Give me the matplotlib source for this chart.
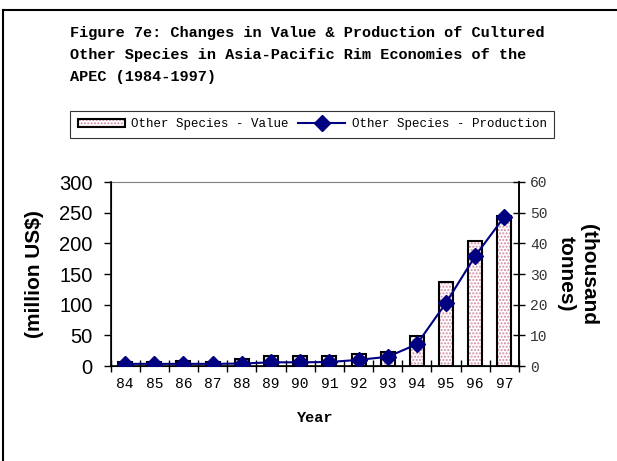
import matplotlib
matplotlib.use('Agg')
import matplotlib.pyplot as plt
from matplotlib.lines import Line2D
from matplotlib.legend_handler import HandlerTuple
import numpy as np

years = ['84', '85', '86', '87', '88', '89', '90', '91', '92', '93', '94', '95', '96', '97']
value_musd = [7, 7, 8, 7, 12, 16, 16, 16, 19, 23, 49, 137, 203, 245]
production_kt = [0.7, 0.7, 0.7, 0.7, 0.8, 1.2, 1.2, 1.3, 2.0, 3.0, 7.1, 20.6, 35.9, 48.7]

title_lines = [
    'Figure 7e: Changes in Value & Production of Cultured',
    'Other Species in Asia-Pacific Rim Economies of the',
    'APEC (1984-1997)',
]

mono = 'Liberation Mono'
sans = 'Liberation Sans'

fig = plt.figure(figsize=(6.17, 4.61), dpi=100)
W, H = 617, 461

# рамка вокруг рисунка (обрезана справа и снизу)
fig.add_artist(Line2D([3 / W, 3 / W], [0, 1 - 10 / H], color='black', lw=1.5))
fig.add_artist(Line2D([3 / W, 1], [1 - 10 / H, 1 - 10 / H], color='black', lw=1.5))

# заголовок
for i, line in enumerate(title_lines):
    fig.text(70 / W, 1 - (33 + 22 * i) / H, line, family=mono, weight='bold',
             fontsize=11, ha='left', va='center')

ax = fig.add_axes([110.5 / W, 1 - 366 / H, 408.5 / W, 184 / H])
x = np.arange(len(years))

# столбцы: розовая точечная штриховка + чёрный контур
bars_fill = ax.bar(x, value_musd, width=0.48, color='white', edgecolor='#d48aa0',
                   hatch='.....', linewidth=0, zorder=2)
bars_edge = ax.bar(x, value_musd, width=0.48, fill=False, edgecolor='black',
                   linewidth=1.5, zorder=3)

ax.set_xlim(-0.5, len(years) - 0.5)
ax.set_ylim(0, 300)
ax.set_yticks(range(0, 301, 50))
ax.set_xticks(x)
ax.set_xticklabels(years, family=mono, fontsize=10.5)
ax.set_xticks(np.arange(-0.5, len(years), 1), minor=True)
ax.tick_params(axis='x', which='major', length=0, pad=8)
ax.tick_params(axis='x', which='minor', direction='inout', length=8, width=1)
ax.tick_params(axis='y', direction='out', length=5, width=1, labelsize=14.5, pad=8)
for lab in ax.get_yticklabels():
    lab.set_family(sans)

ax.spines['top'].set_color('#808080')
for s in ('left', 'bottom', 'right'):
    ax.spines[s].set_linewidth(1.2)
ax.set_ylabel('(million US$)', family=sans, weight='bold', fontsize=15, labelpad=11)
ax.set_xlabel('Year', family=mono, weight='bold', fontsize=11, labelpad=14)

# вторая ось — производство
ax2 = ax.twinx()
line, = ax2.plot(x, production_kt, color='#000080', marker='D', markersize=8,
                 linewidth=1.5, zorder=4)
ax2.set_ylim(0, 60)
ax2.set_yticks(range(0, 61, 10))
ax2.tick_params(axis='y', direction='inout', length=8, width=1, labelsize=10.5,
                labelcolor='#333333', pad=4)
for lab in ax2.get_yticklabels():
    lab.set_family(mono)
ax2.spines['top'].set_visible(False)
ax2.spines['right'].set_linewidth(1.2)
ax2.set_ylabel('(thousand\ntonnes)', family=sans, weight='bold', fontsize=15,
               rotation=-90, labelpad=36)

# легенда
leg = fig.legend([(bars_fill, bars_edge), line],
                 ['Other Species - Value', 'Other Species - Production'],
                 handler_map={tuple: HandlerTuple(ndivide=1)},
                 loc='lower left', bbox_to_anchor=(70 / W, 1 - 138 / H, 484 / W, 31 / H),
                 mode='expand', ncol=2, frameon=True, fancybox=False, edgecolor='black',
                 prop={'family': mono, 'size': 9}, handlelength=3.8,
                 columnspacing=1.0, handletextpad=0.5, borderpad=0.6,
                 borderaxespad=0)
leg.get_frame().set_linewidth(0.8)

fig.savefig('out.png', dpi=100)
